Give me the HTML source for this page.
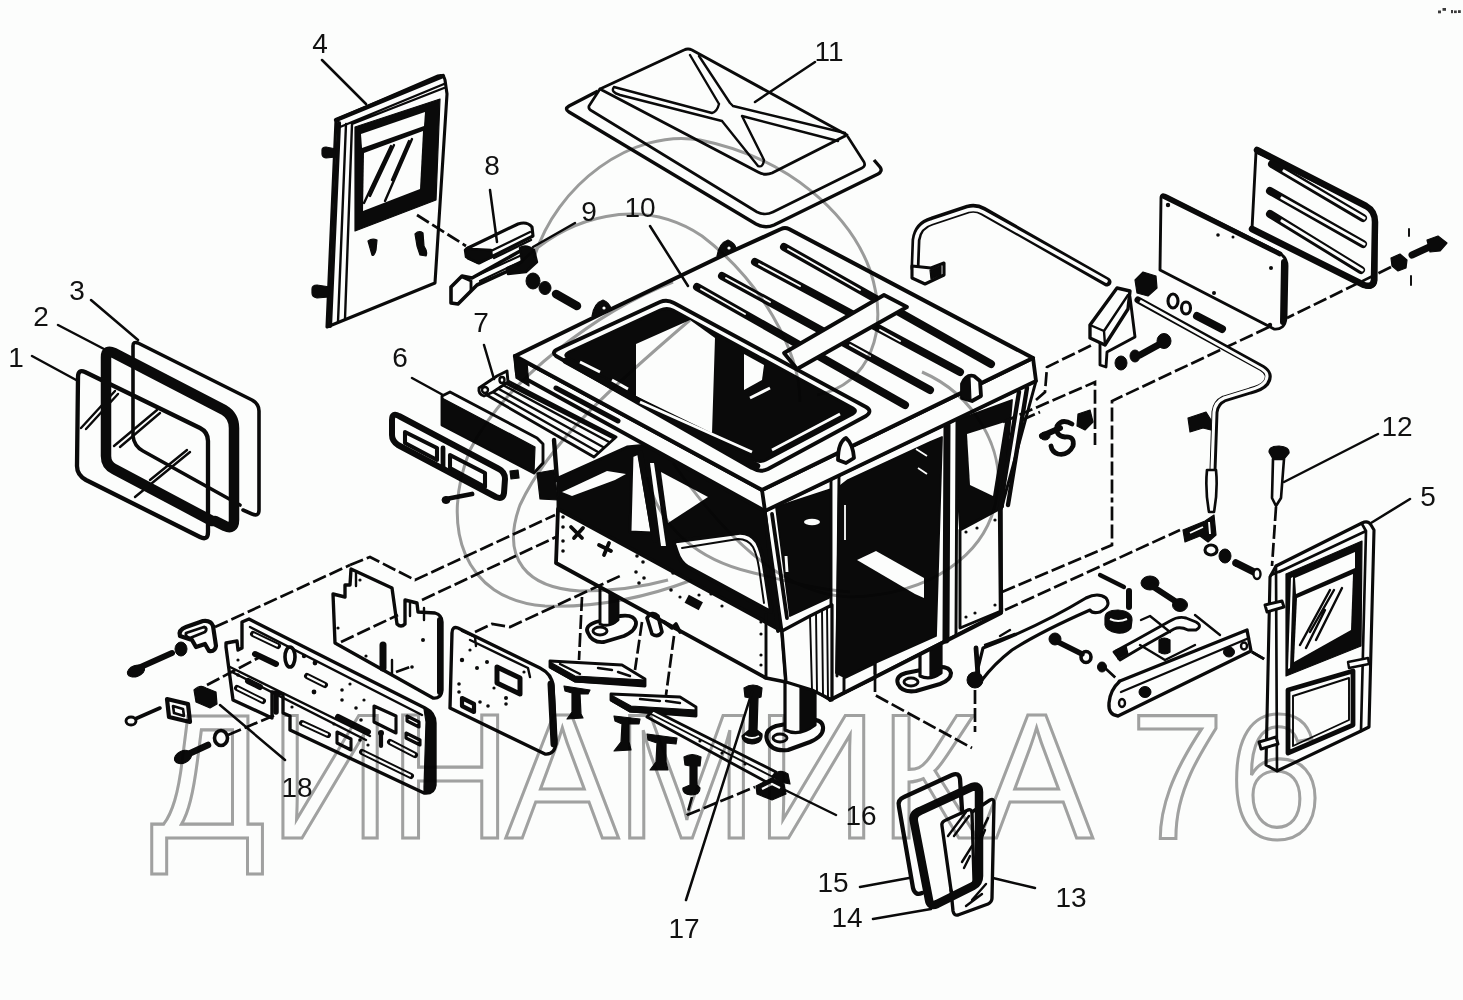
<!DOCTYPE html>
<html><head><meta charset="utf-8"><title>Кабина</title>
<style>
html,body{margin:0;padding:0;background:#fcfdfc;}
svg{display:block}
text{font-family:"Liberation Sans",sans-serif}
.wm{font-size:170px;fill:none;stroke:#a2a2a2;stroke-width:3}
.lb{font-size:28px;fill:#111}
.k{stroke:#0a0a0a;fill:none;stroke-linecap:round;stroke-linejoin:round}
.ld{stroke:#0a0a0a;stroke-width:2.5;fill:none;stroke-linecap:round}
.ds{stroke:#0a0a0a;stroke-width:2.7;fill:none;stroke-dasharray:14 4}
.g{stroke:#9c9c9c;fill:none;stroke-width:3}
.b{fill:#0a0a0a;stroke:#0a0a0a;stroke-linejoin:round}
.w{fill:#fcfdfc;stroke:#0a0a0a;stroke-linejoin:round}
</style></head><body>
<svg width="1463" height="1000" viewBox="0 0 1463 1000">
<rect width="1463" height="1000" fill="#fcfdfc"/>
<!--WATERMARK-->
<!-- 10_frames123.svg -->
<g id="frames123">
<!-- glass 3 -->
<path class="k" stroke-width="3.6" d="M133,346 Q133,341 138,343 L252,400 Q259,404 259,411 L259,510 Q259,517 252,514 L243,510 M133,346 L133,436 Q134,446 143,451 L240,505"/>
<!-- frame 1 -->
<path class="k" stroke-width="4.32" d="M78,377 Q78,369 85,372 L200,428 Q208,432 208,441 L208,532 Q208,541 200,537 L86,480 Q77,475 77,466 Z"/>
<!-- frame 2 thick -->
<path class="k" stroke-width="10.5" d="M106,357 Q106,349 114,353 L224,410 Q234,416 234,428 L234,520 Q234,530 225,526 L215,521 M106,357 L106,456 Q106,465 114,469 L212,521"/>
<!-- reflections -->
<path class="k" stroke-width="2.4" d="M115,391 L81,428 M118,394 L86,429 M157,410 L114,446 M160,413 L120,447 M190,452 L135,497 M187,450 L150,480"/>
</g>

<!-- 20_door4.svg -->
<g id="door4">
<!-- outline -->
<path class="k" stroke-width="3.12" d="M336,120 L438,76 Q444,74 445,80 L447,94 L435,283 L327,327 Z"/>
<path class="k" stroke-width="4.2" d="M339,123 L330,326 M336,120 L443,76"/>
<path class="k" stroke-width="2.4" d="M346,124 L338,322 M352,124 L345,319 M340,127 L444,84 M352,124 L444,88"/>
<!-- dark window frame -->
<path class="b" stroke-width="1.2" d="M355,127 L440,99 L436,200 L355,231 Z"/>
<path fill="#fcfdfc" d="M361,134 L425,112 L424,126 L362,148 Z"/>
<path fill="#fcfdfc" d="M364,153 L423,131 L420,189 L363,211 Z"/>
<path class="k" stroke-width="2.4" d="M391,146 L364,203 M394,145 L370,196 M412,139 L385,201 M409,141 L392,180"/>
<!-- handles -->
<path class="b" stroke-width="1.2" d="M368,241 Q372,238 377,240 L376,250 Q374,257 372,255 Z"/>
<path class="b" stroke-width="1.2" d="M415,234 Q419,230 423,233 L424,246 Q428,252 426,256 L420,255 L417,246 Z"/>
<!-- hinges -->
<path class="b" stroke-width="1.2" d="M322,150 Q322,147 326,147 L336,149 L336,157 L326,158 Q322,157 322,154 Z"/>
<path class="b" stroke-width="1.2" d="M312,289 Q312,285 317,285 L330,287 L329,297 L317,298 Q312,297 312,293 Z"/>
<path class="ds" d="M417,215 L466,246"/>
</g>

<!-- 22_handle89.svg -->
<g id="handle89">
<!-- handle 8 -->
<path class="w" stroke-width="3.12" d="M468,248 L518,224 Q527,221 532,227 L533,236 L479,263 L468,258 Z"/>
<path class="k" stroke-width="2.4" d="M491,251 L530,232 M494,258 L531,240"/>
<path class="b" stroke-width="2.4" d="M465,250 Q468,246 472,249 L491,250 L492,257 L478,263 L466,257 Z"/>
<!-- handle 9 -->
<path class="w" stroke-width="3.6" d="M451,287 L462,276 L472,278 L522,250 L528,262 L477,285 L471,291 L458,304 L451,303 Z"/>
<path class="k" stroke-width="2.16" d="M476,276 L524,254 M480,281 L526,259"/>
<path class="k" stroke-width="2.88" d="M462,277 L471,281 L471,290"/>
<path class="b" stroke-width="2.4" d="M520,248 Q526,244 534,250 L537,262 L526,272 L508,274 L507,268 L522,262 Z"/>
<!-- bolt -->
<ellipse class="b" cx="533" cy="281" rx="7" ry="8"/>
<ellipse class="b" cx="545" cy="288" rx="6" ry="6.5"/>
<path class="k" stroke-width="8.5" d="M556,294 L577,306"/>
</g>

<!-- 30_hatch11.svg -->
<g id="hatch11">
<!-- flange -->
<path class="w" stroke-width="3.36" d="M598,91 L569,106 Q564,109 569,112 L756,224 Q765,229 774,225 L878,174 Q883,171 880,167 L874,160"/>
<path class="k" stroke-width="2.64" d="M600,89 L589,106 Q588,109 592,111 L757,212 Q765,216 773,212 L862,168 Q866,166 864,162 L848,137"/>
<!-- top face -->
<path class="w" stroke-width="2.88" d="M684,50 Q688,48 692,50 L847,135 L772,173 Q765,176 758,172 L600,89 Z"/>
<!-- X ribs -->
<path class="k" stroke-width="2.4" d="M614,87 L712,113 M620,95 L722,121 M614,87 Q610,92 620,95 M733,106 L845,133 M742,116 L838,141 M690,55 L719,104 M699,56 L730,103 Q733,106 733,106 M722,121 L758,166 M742,116 L764,160 Q763,168 758,166 M712,113 Q717,112 719,104"/>
</g>

<!-- 40_cab_body.svg -->
<g id="cabbody">
<!-- legs -->
<g id="legL">
<path class="w" stroke-width="3.8" d="M588,633 Q584,626 596,622 L620,616 Q634,614 636,622 Q637,630 624,636 L604,642 Q592,643 588,633 Z"/>
<ellipse class="w" stroke-width="2.93" cx="600" cy="631" rx="7" ry="4"/>
<path class="w" stroke-width="2.93" d="M600,586 L600,624 Q609,628 618,620 L618,592 Z"/>
<path class="b" stroke-width="1.2" d="M609,590 L618,594 L618,620 Q613,625 609,625 Z"/>
</g>
<g id="legF">
<path class="w" stroke-width="4.1" d="M767,740 Q764,730 776,726 L806,720 Q822,718 823,727 Q824,736 810,742 L788,750 Q771,752 767,740 Z"/>
<ellipse class="w" stroke-width="2.93" cx="780" cy="738" rx="7" ry="4"/>
<path class="w" stroke-width="3.22" d="M785,680 L785,730 Q799,737 815,725 L815,682 Z"/>
<path class="b" stroke-width="1.2" d="M800,682 L815,684 L815,725 Q808,731 800,732 Z"/>
</g>
<g id="legR">
<path class="w" stroke-width="4.1" d="M898,684 Q895,676 906,673 L936,667 Q950,666 951,673 Q951,680 940,684 L916,691 Q902,693 898,684 Z"/>
<ellipse class="w" stroke-width="2.93" cx="911" cy="682" rx="7" ry="4"/>
<path class="w" stroke-width="3.22" d="M920,650 L920,676 Q930,681 941,673 L941,645 Z"/>
<path class="b" stroke-width="1.2" d="M930,648 L941,646 L941,673 Q936,677 930,678 Z"/>
</g>
<!-- front-left face -->
<path class="b" stroke-width="2.93" d="M558,478 L627,447 L700,440 L768,505 L782,631 L558,510 Z"/>
<path class="b" stroke-width="1.2" d="M537,473 L554,470 L558,500 L540,499 Z"/>
<path class="k" stroke-width="4.39" d="M554,440 L557,480"/>
<!-- lower panel -->
<path class="w" stroke-width="3.8" d="M558,509 L782,631 L786,682 L766,678 L556,563 Z"/>
<path class="k" stroke-width="2.93" d="M766,615 L766,678"/>
<!-- white details over black -->
<path fill="#fcfdfc" d="M562,492 L607,471 L626,474 L615,480 L572,496 Z"/>
<path class="w" stroke-width="2.93" d="M632,456 L639,453 L652,533 L630,532 Z"/>
<path class="k" stroke-width="5.86" d="M640,453 L655,540"/>
<path fill="#fcfdfc" d="M650,463 L654,463 L666,546 L661,546 Z"/>
<path fill="#fcfdfc" d="M661,472 L708,497 L668,523 Z"/>
<path class="w" stroke-width="3.8" d="M675,546 Q672,542 678,541 L738,533 Q750,532 757,542 Q762,552 764,566 L771,612 L688,567 Q680,562 677,552 Z"/>
<path class="k" stroke-width="1.92" d="M682,548 L738,539 Q748,539 753,547 Q757,555 759,568 L764,603"/>
<!-- panel holes -->
<g fill="#0a0a0a">
<circle cx="563" cy="517" r="1.8"/><circle cx="563" cy="527" r="1.8"/><circle cx="563" cy="541" r="1.8"/><circle cx="563" cy="551" r="1.8"/>
<circle cx="637" cy="556" r="1.8"/><circle cx="643" cy="562" r="1.8"/><circle cx="636" cy="572" r="1.8"/><circle cx="644" cy="578" r="1.8"/><circle cx="639" cy="583" r="1.8"/>
<circle cx="673" cy="573" r="1.8"/><circle cx="671" cy="590" r="1.8"/><circle cx="680" cy="597" r="1.6"/><circle cx="699" cy="595" r="1.6"/><circle cx="711" cy="594" r="1.6"/><circle cx="722" cy="606" r="1.6"/>
<circle cx="761" cy="622" r="1.6"/><circle cx="761" cy="634" r="1.6"/><circle cx="761" cy="655" r="1.6"/><circle cx="761" cy="665" r="1.6"/>
<rect x="686" y="598" width="16" height="9" transform="rotate(28 694 602)"/>
</g>
<path class="k" stroke-width="3.8" d="M571,527 L582,538 M583,528 L574,538 M599,545 L611,551 M609,543 L604,555"/>
<!-- right face -->
<path class="w" stroke-width="2.93" d="M765,511 L1036,381 L1001,510 L1001,612 L830,700 L811,688 L782,631 Z"/>
<!-- corner base -->
<path class="w" stroke-width="3.22" d="M782,631 L810,616 L832,605 L832,700 L812,690 L786,682 Z"/>
<path class="k" stroke-width="1.92" d="M810,616 L812,690 M816,613 L817,692 M822,610 L823,695 M827,607 L828,698"/>
<!-- corner post -->
<path class="k" stroke-width="3.8" d="M765,513 L778,631 M772,514 L787,618"/>
<!-- K_R1 -->
<path class="b" stroke-width="1.8" d="M776,507 L831,489 L831,597 L790,616 Z"/>
<ellipse cx="812" cy="522" rx="8" ry="3.2" fill="#fcfdfc"/>
<path stroke="#fcfdfc" stroke-width="2.93" d="M786,556 L787,572"/>
<!-- post1 -->
<path class="k" stroke-width="2.93" d="M831,480 L831,606 M839,476 L837,676"/>
<!-- K_R2 -->
<path class="b" stroke-width="1.8" d="M839,487 L848,480 L930,442 L942,437 L936,636 L844,677 L836,673 Z"/>
<path fill="#fcfdfc" d="M857,560 L876,551 L924,578 L924,598 L915,594 Z"/>
<path stroke="#fcfdfc" stroke-width="1.8" d="M845,505 L845,540 M916,449 L927,456 M918,468 L927,474"/>
<!-- sill under K_R2 -->
<path class="w" stroke-width="2.93" d="M844,678 L875,663 L875,678 L844,693 Z"/>
<!-- post2 -->
<path class="k" stroke-width="7" d="M947,425 L946,640"/>
<path class="k" stroke-width="2.93" d="M957,418 L956,634"/>
<!-- K_R3 -->
<path class="b" stroke-width="1.8" d="M957,420 L1012,400 L1003,507 L960,530 L957,480 Z"/>
<path fill="#fcfdfc" d="M967,434 L1005,422 L993,496 L970,485 Z"/>
<!-- rear lower panel -->
<path class="w" stroke-width="2.93" d="M960,530 L1001,508 L1001,611 L960,628 Z"/>
<g fill="#0a0a0a"><circle cx="966" cy="532" r="1.6"/><circle cx="977" cy="528" r="1.6"/><circle cx="995" cy="520" r="1.6"/><circle cx="966" cy="617" r="1.6"/><circle cx="975" cy="613" r="1.6"/><circle cx="995" cy="605" r="1.6"/></g>
<!-- rear corner pillar -->
<path class="k" stroke-width="4.39" d="M1019,392 L1000,508 L1001,612 M1027,388 L1008,505"/>
<path class="k" stroke-width="3.8" d="M830,700 L1001,613"/>
</g>

<!-- 45_cab_roof.svg -->
<g id="cabroof">
<!-- fascia -->
<path class="w" stroke-width="3.8" d="M515,356 L762,490 L1033,358 L1036,381 L765,511 L517,374 Z"/>
<path class="k" stroke-width="3.8" d="M762,490 L765,511"/>
<!-- roof top -->
<path class="w" stroke-width="4.1" d="M515,356 L601,314 L726,254 L781,229 Q785,227 789,229 L1033,358 L762,490 Z"/>
<path class="b" stroke-width="1.2" d="M514,355 L527,362 L529,386 L516,378 Z"/>
<!-- fascia slot -->
<path class="k" stroke-width="5" d="M556,388 L618,421"/>
<!-- lifting eyes -->
<path class="b" stroke-width="1.2" d="M592,316 Q594,303 603,300 Q610,303 611,309 Z"/>
<path class="b" stroke-width="1.2" d="M717,256 Q719,243 728,240 Q735,243 736,248 Z"/>
<circle cx="604" cy="308" r="1.6" fill="#fcfdfc"/><circle cx="729" cy="248" r="1.6" fill="#fcfdfc"/>
<!-- slots -->
<path stroke="#0a0a0a" stroke-width="8" stroke-linecap="round" fill="none" d="M784,247 L991,364 M755,262 L960,372 M722,276 L930,390 M697,287 L905,405"/>
<path stroke="#fcfdfc" stroke-width="1.8" stroke-linecap="round" fill="none" d="M788,249 L860,290 M759,264 L800,286 M726,278 L770,302 M701,289 L745,314 M880,330 L900,341 M850,345 L870,356"/>
<!-- hatch opening -->
<path class="w" stroke-width="3.8" d="M556,356 Q551,352 558,349 L660,302 Q667,299 674,303 L866,407 Q873,411 866,416 L768,469 Q760,473 752,468 Z"/>
<path class="b" stroke-width="2.93" d="M568,358 Q563,355 569,352 L660,310 Q667,307 673,310 L853,408 Q858,411 853,414 L766,460 Q760,463 754,460 Z"/>
<path fill="#fcfdfc" d="M636,344 L690,320 L715,338 L712,433 L636,396 Z"/>
<path class="k" stroke-width="6.5" d="M566,361 L757,466"/>
<path fill="#fcfdfc" d="M744,354 L764,365 L762,380 L744,390 Z"/>
<path stroke="#fcfdfc" stroke-width="2.93" fill="none" d="M580,362 L600,372 M612,380 L628,389 M640,402 L752,452 M772,450 L840,414 M750,398 L770,388"/>
<!-- strap -->
<path class="w" stroke-width="3.8" d="M784,353 L884,295 L907,307 L797,369 Z"/>
<!-- corner lug / front lug -->
<path class="w" stroke-width="3.8" d="M962,398 L962,384 Q966,374 974,376 L980,381 L981,396 L972,401 Z"/>
<path class="b" stroke-width="1.2" d="M962,398 L962,384 Q966,376 970,378 L971,401 Z"/>
<path class="w" stroke-width="3.8" d="M838,460 Q838,442 846,438 Q853,444 854,458 L846,463 Z"/>
</g>

<!-- 50_lamp67.svg -->
<g id="lamp67">
<!-- bracket 7 rail -->
<path class="w" stroke-width="2.88" d="M485,394 L508,381 L616,437 L594,457 Z"/>
<path class="k" stroke-width="2.4" d="M491,391 L598,452 M497,388 L603,447 M503,385 L609,442"/>
<path class="k" stroke-width="3.6" d="M506,383 L614,438"/>
<path class="w" stroke-width="2.88" d="M479,388 L497,376 L507,371 L508,382 L493,392 L484,396 Q478,394 479,388 Z"/>
<ellipse class="k" stroke-width="2.4" cx="502" cy="380" rx="2.5" ry="3"/>
<ellipse class="k" stroke-width="2.4" cx="485" cy="390" rx="3" ry="3"/>
<!-- lamp body -->
<path class="w" stroke-width="2.88" d="M442,396 L450,392 L537,438 L543,444 L543,463 L534,473 L442,425 Z"/>
<path class="b" stroke-width="1.2" d="M442,398 L535,447 L534,472 L442,425 Z"/>
<!-- bezel -->
<path class="k" stroke-width="6" d="M392,420 Q392,412 399,416 L499,469 Q505,472 505,479 L504,493 Q503,500 496,497 L398,445 Q392,441 392,435 Z"/>
<path class="k" stroke-width="4.08" d="M405,432 L437,448 L437,460 L405,443 Z M450,455 L485,473 L485,487 L450,468 Z"/>
<path class="k" stroke-width="4.8" d="M443,448 L443,468"/>
<!-- screw + blob -->
<path class="b" stroke-width="1.2" d="M510,471 L518,470 L519,478 L511,479 Z"/>
<path class="k" stroke-width="4.8" d="M446,499 L472,494"/>
<ellipse class="b" cx="446" cy="500" rx="4" ry="3.5"/>
</g>

<!-- 60_rightpanels.svg -->
<g id="rightpanels">
<!-- slotted panel B -->
<path class="w" stroke-width="2.88" d="M1256,152 L1366,207 Q1376,212 1376,222 L1376,280 Q1376,288 1366,287 L1252,229 Z"/>
<path class="k" stroke-width="6.5" d="M1257,150 L1366,206 Q1375,211 1375,222 L1374,280 Q1373,288 1364,285 L1252,229"/>
<path stroke="#0a0a0a" stroke-width="8" stroke-linecap="round" fill="none" d="M1272,164 L1363,218 M1270,191 L1363,244 M1270,214 L1361,270"/>
<path stroke="#fcfdfc" stroke-width="3.12" stroke-linecap="round" fill="none" d="M1284,171 L1364,218 M1282,198 L1364,244 M1282,221 L1362,270"/>
<!-- plain panel A -->
<path class="w" stroke-width="2.88" d="M1161,198 Q1161,193 1167,196 L1278,252 Q1287,257 1287,266 L1286,318 Q1285,330 1274,329 L1160,270 Z"/>
<path class="k" stroke-width="6" d="M1284,262 L1283,322"/>
<path class="k" stroke-width="4.8" d="M1163,196 L1280,254"/>
<g fill="#0a0a0a"><circle cx="1168" cy="205" r="2.2"/><circle cx="1218" cy="235" r="1.8"/><circle cx="1233" cy="237" r="1.5"/><circle cx="1271" cy="268" r="2"/><circle cx="1214" cy="293" r="2"/><circle cx="1270" cy="325" r="2.2"/></g>
<!-- bolt right -->
<path class="b" stroke-width="1.2" d="M1391,258 L1400,254 L1407,260 L1406,268 L1398,271 L1392,266 Z"/>
<path class="k" stroke-width="7" d="M1412,255 L1436,244"/>
<path class="b" stroke-width="1.2" d="M1427,240 L1438,236 L1447,243 L1440,251 L1430,252 Z"/>
<path class="k" stroke-width="1.92" d="M1409,229 L1409,236 M1411,276 L1411,285"/>
<path class="ds" d="M1391,267 L1287,318 M1269,327 L1112,401 L1112,500"/>
</g>

<!-- 62_pipe_rod.svg -->
<g id="piperod">
<!-- upper pipe handle -->
<path class="k" stroke-width="9" d="M915,268 L916,240 Q918,225 932,221 L968,209 Q976,207 983,211 L1107,282"/>
<path stroke="#fcfdfc" stroke-width="3.6" fill="none" stroke-linecap="round" d="M915,266 L916,240 Q918,226 932,222 L968,210 Q976,208 983,212 L1106,281"/>
<path class="w" stroke-width="3.12" d="M912,266 L912,278 L925,284 L944,275 L944,263 L931,268 Z"/>
<path class="b" stroke-width="1.2" d="M930,270 L941,266 L941,275 L931,279 Z"/>
<!-- lever -->
<path class="w" stroke-width="2.88" d="M1130,297 L1135,337 L1107,352 L1106,367 L1100,365 L1100,340 Z"/>
<path class="w" stroke-width="3.36" d="M1090,325 L1117,288 L1130,291 L1128,309 L1105,345 L1090,338 Z"/>
<path class="k" stroke-width="2.4" d="M1090,325 L1104,331 L1105,345 M1104,331 L1128,295"/>
<path class="b" stroke-width="1.2" d="M1135,280 L1143,272 L1156,276 L1157,288 L1148,296 L1137,293 Z"/>
<!-- rod tube -->
<path class="k" stroke-width="7" d="M1138,300 L1262,368 Q1272,374 1266,383 Q1262,388 1250,391 L1224,399 Q1216,403 1215,412 L1213,470"/>
<path stroke="#fcfdfc" stroke-width="3.12" fill="none" d="M1140,301 L1262,369 Q1270,374 1265,382 Q1261,387 1250,390 L1224,398 Q1215,402 1214,412 L1212,470"/>
<path class="b" stroke-width="1.2" d="M1188,418 L1206,412 L1211,420 L1211,430 L1203,428 L1190,432 Z"/>
<path class="w" stroke-width="2.64" d="M1207,470 Q1205,490 1209,512 L1214,512 Q1218,490 1216,470 Z"/>
<!-- washers bolts top -->
<ellipse class="k" stroke-width="3.12" cx="1173" cy="301" rx="5" ry="7"/>
<ellipse class="k" stroke-width="3.12" cx="1186" cy="308" rx="4.5" ry="6"/>
<path class="k" stroke-width="8" d="M1197,316 L1222,329"/>
<path class="k" stroke-width="7" d="M1140,355 L1160,344"/>
<ellipse class="b" cx="1164" cy="341" rx="7" ry="7.5"/>
<ellipse class="b" cx="1135" cy="356" rx="5" ry="6"/>
<ellipse class="b" cx="1121" cy="363" rx="6" ry="7"/>
<!-- hook -->
<path class="k" stroke-width="6" d="M1042,436 L1060,428"/>
<ellipse class="b" cx="1045" cy="436" rx="5" ry="4"/>
<path class="k" stroke-width="4.8" d="M1072,424 Q1062,418 1057,426 Q1055,436 1065,437 Q1075,436 1073,446 Q1068,456 1058,454 Q1052,452 1051,446"/>
<path class="b" stroke-width="1.2" d="M1078,414 L1090,410 L1093,422 L1085,430 L1077,426 Z"/>
<!-- bottom bracket of rod -->
<path class="b" stroke-width="1.2" d="M1183,530 L1205,521 L1214,515 L1216,535 L1208,542 L1200,536 L1185,542 Z"/>
<path stroke="#fcfdfc" stroke-width="1.92" fill="none" d="M1190,533 L1203,527 M1209,522 L1210,534"/>
<ellipse class="k" stroke-width="3.12" cx="1211" cy="550" rx="6" ry="5"/>
<ellipse class="b" cx="1225" cy="556" rx="6" ry="7"/>
<path class="k" stroke-width="7.5" d="M1236,563 L1256,573"/>
<ellipse class="w" stroke-width="2.4" cx="1257" cy="574" rx="3.5" ry="5"/>
<!-- pin 12 -->
<path class="b" stroke-width="1.2" d="M1269,452 Q1269,446 1279,446 Q1290,447 1289,453 L1284,459 L1273,459 Z"/>
<path class="w" stroke-width="2.64" d="M1273,459 L1272,498 L1276,506 L1281,498 L1284,459 Z"/>
<path class="ds" d="M1276,507 L1272,566"/>
<!-- dashed from cab -->
<path class="ds" d="M1036,400 L1045,392 L1047,367 L1092,345 M1003,422 L1095,382 L1095,415 M1022,420 L1040,412"/>
</g>

<!-- 64_door5.svg -->
<g id="door5">
<path class="w" stroke-width="3.12" d="M1276,566 L1362,523 Q1368,520 1371,525 L1374,530 L1369,727 L1361,731 L1277,771 L1266,765 L1270,577 Z"/>
<path class="k" stroke-width="2.64" d="M1276,566 L1277,771 M1271,575 L1283,570 M1362,524 L1366,531 L1361,731 M1279,572 L1366,531"/>
<!-- upper window -->
<path class="b" stroke-width="1.2" d="M1286,574 L1362,541 L1361,646 L1286,676 Z"/>
<path fill="#fcfdfc" d="M1295,578 L1355,552 L1355,568 L1296,594 Z"/>
<path fill="#fcfdfc" d="M1297,598 L1353,574 L1351,630 L1294,662 Z"/>
<path fill="#fcfdfc" d="M1291,578 L1293,577 L1290,668 L1288,669 Z"/>
<path class="k" stroke-width="2.4" d="M1330,590 L1300,645 M1334,590 L1310,632 M1342,588 L1316,640 M1325,610 L1306,648"/>
<!-- lower window -->
<path class="k" stroke-width="4.8" d="M1288,690 L1353,671 L1353,725 L1288,753 Z"/>
<path class="k" stroke-width="1.92" d="M1293,696 L1349,678 L1349,720 L1293,746 Z"/>
<!-- hinges & latch -->
<path class="w" stroke-width="2.88" d="M1265,605 L1282,601 L1284,607 L1267,612 Z"/>
<path class="w" stroke-width="2.88" d="M1259,742 L1276,737 L1278,744 L1261,749 Z"/>
<path class="w" stroke-width="2.4" d="M1348,662 L1368,658 L1369,664 L1349,668 Z"/>
<path class="ds" d="M1252,652 L1267,661"/>
</g>

<!-- 66_bracket_br.svg -->
<g id="bracketbr">
<!-- long bar -->
<path class="w" stroke-width="3.36" d="M1120,681 L1247,630 L1251,651 L1118,716 Q1108,715 1109,703 Q1110,690 1120,681 Z"/>
<path class="k" stroke-width="2.4" d="M1121,692 L1249,638"/>
<ellipse class="k" stroke-width="2.4" cx="1122" cy="703" rx="3" ry="4"/>
<ellipse class="b" cx="1145" cy="692" rx="6" ry="5.5"/>
<ellipse class="b" cx="1229" cy="652" rx="5.5" ry="5"/>
<ellipse class="k" stroke-width="2.4" cx="1244" cy="646" rx="3" ry="3.5"/>
<!-- curved arm -->
<path class="w" stroke-width="3.12" d="M983,648 Q1040,626 1086,598 Q1098,592 1106,598 Q1112,606 1100,612 Q1092,614 1090,610 Q1040,632 1012,650 Q994,664 982,680 L976,676 Z"/>
<path class="k" stroke-width="4.8" d="M976,648 L978,676"/>
<ellipse class="b" cx="975" cy="680" rx="8" ry="8"/>
<path class="k" stroke-width="2.4" d="M985,645 L1015,634 M1000,636 L1010,630"/>
<path class="ds" d="M975,690 L975,732"/>
<!-- bushing + pins -->
<path class="k" stroke-width="4.2" d="M1100,575 L1124,587"/>
<path class="k" stroke-width="6" d="M1129,591 L1129,607"/>
<path class="b" stroke-width="1.2" d="M1105,618 Q1105,610 1118,610 Q1132,611 1132,620 L1131,628 Q1126,634 1117,633 Q1106,631 1105,625 Z"/>
<path stroke="#fcfdfc" stroke-width="2.16" fill="none" d="M1110,619 Q1118,623 1127,619"/>
<!-- bolt upper -->
<ellipse class="b" cx="1150" cy="583" rx="9" ry="7"/>
<path class="k" stroke-width="6" d="M1152,586 L1178,603"/>
<ellipse class="b" cx="1180" cy="605" rx="7.5" ry="6.5"/>
<!-- S link -->
<path class="k" stroke-width="2.88" d="M1114,652 L1136,640 L1170,621 Q1178,616 1186,618 L1196,622 Q1203,626 1196,630 L1188,630 Q1180,626 1174,629 L1142,647 L1120,660 Z"/>
<path class="k" stroke-width="2.4" d="M1141,620 L1150,616 L1170,632 M1195,615 L1220,635 M1140,645 L1165,660 L1195,645"/>
<path class="b" stroke-width="1.2" d="M1159,640 Q1164,636 1170,640 L1170,652 Q1165,656 1159,652 Z"/>
<path class="b" stroke-width="1.2" d="M1116,650 L1126,646 L1128,654 L1118,659 Z"/>
<!-- small bolt left -->
<ellipse class="b" cx="1055" cy="639" rx="6" ry="6"/>
<path class="k" stroke-width="5.4" d="M1058,642 L1082,654"/>
<ellipse class="k" stroke-width="3.6" cx="1086" cy="657" rx="5" ry="5.5"/>
<ellipse class="b" cx="1102" cy="667" rx="4.5" ry="5"/>
<path class="ds" d="M1105,668 L1120,682"/>
<!-- dashed -->
<path class="ds" d="M1002,592 L1112,545 L1112,500 M1005,610 L1180,530 M1252,652 L1268,661"/>
</g>

<!-- 70_panels18.svg -->
<g id="panels18">
<!-- panel B (middle, behind) -->
<path class="w" stroke-width="3.36" d="M333,594 L345,597 L345,585 L350,585 L351,569 L392,588 L397,624 Q401,628 405,624 L405,600 L417,603 L418,612 L435,613 Q442,615 442,622 L442,690 Q441,699 433,698 L335,643 Z"/>
<path class="k" stroke-width="6" d="M440,620 L440,692"/>
<path class="k" stroke-width="7" d="M383,645 L383,668"/>
<path class="k" stroke-width="2.4" d="M356,573 L356,586 M410,603 L410,616 M424,608 L424,620 M392,660 L392,675"/>
<g fill="#0a0a0a"><circle cx="338" cy="628" r="1.6"/><circle cx="360" cy="580" r="1.6"/><circle cx="423" cy="640" r="2"/><circle cx="366" cy="656" r="1.6"/><circle cx="412" cy="667" r="1.8"/></g>
<!-- panel 18 -->
<path class="w" stroke-width="3.36" d="M226,647 L226,643 L237,641 L238,650 L242,648 L242,622 L249,619 L425,708 Q435,713 435,723 L435,785 Q434,794 424,793 L290,730 L290,716 L283,713 L283,694 L272,692 L272,718 L233,700 Z"/>
<path class="b" stroke-width="1.2" d="M424,709 Q435,714 435,723 L435,785 Q434,794 424,793 L424,787 L426,722 Z"/>
<path class="k" stroke-width="2.4" d="M250,627 L422,715 M230,667 L370,736 M232,672 L366,740"/>
<path class="k" stroke-width="5.5" d="M276,693 L276,712"/>
<!-- slots -->
<g stroke="#0a0a0a" stroke-width="6" stroke-linecap="round" fill="none">
<path d="M253,634 L278,646 M255,654 L276,664 M237,688 L263,701 M248,681 L260,687 M307,676 L325,685 M302,723 L328,735 M362,752 L411,776 M390,742 L415,755 M338,717 L368,732"/>
</g>
<g stroke="#fcfdfc" stroke-width="2.16" stroke-linecap="round" fill="none">
<path d="M254,634.500 L277,645.500 M238,688.500 L262,700.500 M308,676.500 L324,684.500 M303,723.500 L327,734.500 M363,752.500 L410,775.500 M391,742.500 L414,754.500"/>
</g>
<ellipse class="k" stroke-width="3.6" cx="290" cy="657" rx="5" ry="10"/>
<path class="k" stroke-width="3.12" d="M374,706 L396,716 L396,733 L374,722 Z M337,732 L351,739 L351,750 L337,743 Z M407,716 L419,722 L419,727 L407,721 Z M406,733 L420,740 L420,745 L406,738 Z"/>
<path class="k" stroke-width="4.2" d="M381,734 L381,746"/><circle cx="381" cy="733" r="3" fill="#0a0a0a"/>
<g fill="#0a0a0a"><circle cx="304" cy="656" r="2.2"/><circle cx="315" cy="663" r="2.4"/><circle cx="314" cy="692" r="2.4"/><circle cx="238" cy="675" r="1.8"/><circle cx="238" cy="660" r="1.6"/><circle cx="342" cy="690" r="1.8"/><circle cx="350" cy="684" r="1.6"/><circle cx="342" cy="700" r="1.8"/><circle cx="356" cy="708" r="1.8"/><circle cx="364" cy="700" r="1.6"/><circle cx="361" cy="720" r="1.8"/><circle cx="334" cy="724" r="1.6"/><circle cx="360" cy="740" r="1.8"/><circle cx="368" cy="745" r="1.6"/><circle cx="292" cy="707" r="1.6"/></g>
<!-- panel C -->
<path class="w" stroke-width="3.36" d="M452,633 Q452,626 458,628 L540,668 Q552,674 553,686 L556,740 Q556,755 545,754 L450,708 Z"/>
<path class="k" stroke-width="7" d="M551,684 L554,744"/>
<path class="k" stroke-width="2.4" d="M462,631 L475,637 L476,646 M470,640 L528,668 L530,677"/>
<path class="k" stroke-width="5" d="M497,667 L520,678 L520,694 L497,683 Z"/>
<path class="k" stroke-width="4.2" d="M462,698 L474,704 L474,712 L462,706 Z"/>
<g fill="#0a0a0a"><circle cx="462" cy="660" r="2.2"/><circle cx="470" cy="650" r="1.6"/><circle cx="477" cy="668" r="2"/><circle cx="487" cy="662" r="2"/><circle cx="459" cy="684" r="1.8"/><circle cx="459" cy="692" r="1.8"/><circle cx="480" cy="702" r="1.8"/><circle cx="488" cy="706" r="1.8"/><circle cx="506" cy="698" r="2"/><circle cx="506" cy="704" r="1.8"/><circle cx="494" cy="688" r="1.6"/><circle cx="524" cy="672" r="1.6"/></g>
<!-- left small parts -->
<path class="k" stroke-width="4.2" d="M180,636 Q178,630 186,627 L203,621 Q211,620 213,626 L216,646 Q215,652 209,651 L205,644 L196,647 L192,640 Z"/>
<path class="k" stroke-width="2.88" d="M186,633 L204,627 Q208,628 205,632 L190,638 Q185,637 186,633 Z"/>
<path class="k" stroke-width="6" d="M134,670 L172,653"/>
<ellipse class="b" cx="136" cy="671" rx="9" ry="5.5" transform="rotate(-20 136 671)"/>
<ellipse class="b" cx="181" cy="649" rx="6" ry="7"/>
<path class="k" stroke-width="4.2" d="M167,699 L188,704 L190,722 L169,717 Z"/>
<path class="k" stroke-width="2.64" d="M173,706 L183,709 L184,716 L174,713 Z"/>
<path class="k" stroke-width="3.6" d="M135,719 L160,708"/>
<ellipse class="w" stroke-width="2.88" cx="131" cy="721" rx="5" ry="4"/>
<path class="b" stroke-width="1.2" d="M194,690 Q200,684 206,688 L216,692 L217,704 L210,708 L196,702 Z"/>
<path class="k" stroke-width="6.5" d="M182,757 L208,745"/>
<ellipse class="b" cx="183" cy="757" rx="9" ry="6" transform="rotate(-25 183 757)"/>
<ellipse class="k" stroke-width="3.6" cx="221" cy="738" rx="6.500" ry="7.500"/>
<path class="ds" d="M215,627 L350,565 M207,685 L260,657 M228,735 L275,715"/>
</g>

<!-- 72_mounts.svg -->
<g id="mounts">
<!-- clip under cab -->
<path class="k" stroke-width="3.6" d="M647,618 Q652,610 658,616 L662,632 Q658,638 652,634 Z M664,622 L672,628 L676,624 L680,632"/>
<!-- plate 1 -->
<path class="w" stroke-width="2.88" d="M550,661 L622,665 L645,679 L645,686 L575,681 L550,667 Z"/>
<path class="b" stroke-width="1.2" d="M550,662 L575,676 L645,680 L645,686 L575,682 L550,668 Z"/>
<path class="k" stroke-width="2.4" d="M560,664 L580,674 M598,668 L612,670 M618,672 L630,676"/>
<!-- plate 2 -->
<path class="w" stroke-width="2.88" d="M611,694 L680,697 L696,707 L696,716 L630,711 L611,700 Z"/>
<path class="b" stroke-width="1.2" d="M611,695 L631,706 L696,710 L696,716 L630,712 L611,701 Z"/>
<path class="k" stroke-width="2.4" d="M640,699 L660,701 M666,701 L680,703"/>
<!-- long bar -->
<path class="w" stroke-width="2.88" d="M647,717 L653,710 L776,772 L770,784 Z"/>
<path class="k" stroke-width="1.92" d="M651,714 L773,777"/><g fill="#0a0a0a"><circle cx="700" cy="741" r="1.6"/><circle cx="722" cy="753" r="1.6"/><circle cx="745" cy="764" r="1.6"/></g>
<path class="b" stroke-width="1.2" d="M756,786 L772,778 L784,784 L786,794 L772,800 L757,794 Z"/>
<path stroke="#fcfdfc" stroke-width="2.16" fill="none" d="M762,789 L772,784 L780,788"/>
<path class="b" stroke-width="1.2" d="M772,776 Q780,768 788,774 L790,784 L780,782 Z"/>
<!-- bolts -->
<path class="b" stroke-width="1.2" d="M564,686 L590,690 L588,694 L580,694 L581,714 L583,718 L567,719 L572,712 L572,693 L565,691 Z"/>
<path class="b" stroke-width="1.2" d="M614,716 L640,719 L639,724 L629,724 L629,742 L631,750 L614,751 L621,742 L622,724 L615,721 Z"/>
<path class="b" stroke-width="1.2" d="M647,734 L677,738 L676,744 L666,743 L666,762 L668,770 L650,770 L656,762 L657,743 L648,740 Z"/>
<path class="b" stroke-width="1.2" d="M684,757 Q692,752 701,757 L700,766 L697,766 L697,785 L700,788 Q700,795 691,795 Q682,794 683,788 L690,785 L690,766 L685,765 Z"/>
<path class="b" stroke-width="1.2" d="M744,688 Q753,682 762,688 L761,697 L758,698 L757,730 L762,734 Q763,743 752,744 Q742,743 742,736 L749,730 L750,698 L745,697 Z"/>
<path stroke="#fcfdfc" stroke-width="1.8" fill="none" d="M745,736 Q752,740 759,736"/>
<!-- dashed -->
<path class="ds" d="M582,597 L579,660 M642,622 L635,670 M674,636 L666,695 M687,815 L755,787 M692,797 L687,815"/>
<path class="ds" d="M475,632 L492,624 L510,627 L620,576"/>
</g>

<!-- 74_frames131415.svg -->
<g id="frames131415">
<path class="k" stroke-width="4.32" d="M899,807 Q897,800 904,797 L952,775 Q959,772 960,779 L962,810 M899,807 L913,888 Q915,896 922,893"/>
<path class="k" stroke-width="3.36" d="M942,826 Q941,822 946,820 L968,810 Q972,809 972,813 L974,880 Q974,885 969,887 L956,894 Q952,895 951,890 Z"/>
<path class="k" stroke-width="3.36" d="M972,812 L990,800 Q994,798 994,803 L992,898 Q992,902 988,904 L958,915 Q954,916 953,911 L951,890"/>
<path class="k" stroke-width="8.5" d="M914,822 Q912,814 920,811 L972,787 Q979,785 979,792 L979,876 Q979,883 973,886 L937,904 Q930,907 929,900 Z"/>
<path class="k" stroke-width="2.4" d="M966,812 L948,836 M969,816 L954,836 M988,818 L980,834 M985,830 L980,842 M972,846 L962,862 M970,856 L964,868 M986,884 L972,900 M982,894 L966,906"/>
</g>

<!-- 90_leaders.svg -->
<g id="leaders" class="ld">
<path d="M32,356 L78,381 M58,325 L104,349 M91,300 L138,340 M322,60 L366,104 M1410,499 L1371,523 M412,378 L443,395 M484,345 L494,379 M490,190 L497,242 M575,223 L533,247 M650,226 L688,286 M815,62 L755,102 M1378,434 L1284,482 M1035,888 L993,878 M873,919 L931,909 M860,887 L909,878 M836,815 L785,790 M752,692 L686,900 M220,705 L285,760"/>
</g>
<g id="dashes2">
<path class="ds" d="M350,565 L370,557 L415,580 L555,515 M422,600 L556,537 M341,642 L398,615 M396,672 L413,666 M875,660 L875,695 L972,748 M1095,415 L1095,445"/>
</g>

<!-- 95_marks.svg -->
<g id="marks" fill="#3a3a3a">
<rect x="1438" y="10.500" width="3" height="2.800"/><rect x="1442.500" y="8" width="3.500" height="2.800"/><rect x="1451" y="10" width="2" height="3.200"/><rect x="1454" y="10.500" width="2.800" height="2.600"/><rect x="1458" y="10.200" width="2.800" height="2.800"/>
</g>

<!-- 96_wm.svg -->
<g id="wm" style="mix-blend-mode:multiply">
<text class="wm" transform="translate(0,837.5) scale(1,1.047)" x="150.5 269.1 388.8 505.6 615.7 755.6 879.3 979.8 1087.7 1129.9 1228.0" y="0">ДИНАМИКА 76</text>
</g>

<!-- 97_logo.svg -->
<g id="logo" class="g" style="mix-blend-mode:multiply">
<path d="M534,258 C556,185 632,128 700,140 C790,158 850,215 870,270 C890,330 870,385 817,395"/>
<path d="M517,266 C568,214 642,196 702,236 C760,280 800,350 800,402"/>
<path d="M673,282 C600,310 505,380 470,450 C440,525 462,600 545,606 C600,608 650,596 692,580"/>
<path d="M690,320 C620,380 550,440 520,505 C500,560 528,588 580,591 C620,591 650,585 668,580"/>
<path d="M922,372 C975,395 1005,450 997,495 C988,555 930,595 850,597 C780,595 720,530 673,463"/>
<path d="M647,477 C660,530 700,560 750,572 C790,582 820,590 850,592"/>
</g>

<!--LABELS-->
<g id="labels" class="lb" text-anchor="middle">
<text x="16" y="367">1</text>
<text x="41" y="326">2</text>
<text x="77" y="300">3</text>
<text x="320" y="53">4</text>
<text x="1428" y="506">5</text>
<text x="400" y="367">6</text>
<text x="481" y="332">7</text>
<text x="492" y="175">8</text>
<text x="589" y="221">9</text>
<text x="640" y="217">10</text>
<text x="829" y="61">11</text>
<text x="1397" y="436">12</text>
<text x="1071" y="907">13</text>
<text x="847" y="927">14</text>
<text x="833" y="892">15</text>
<text x="861" y="825">16</text>
<text x="684" y="938">17</text>
<text x="297" y="797">18</text>
</g>
</svg>
</body></html>
